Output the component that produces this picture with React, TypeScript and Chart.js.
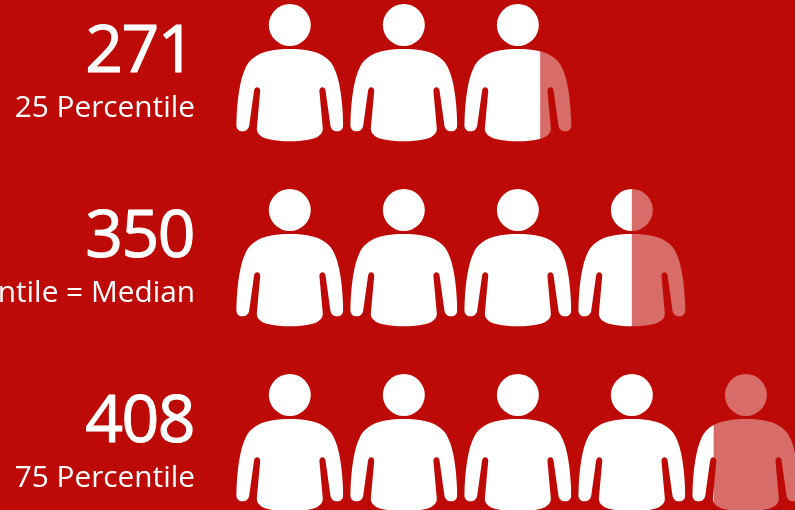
import React, { useEffect, useRef } from "react";
import { Chart, registerables } from "chart.js";

Chart.register(...registerables);

const categories = ["25 Percentile", "50 Percentile = Median", "75 Percentile"];
const valueLabels = ["271", "350", "408"];
const filledPeople = [2.71, 3.5, 4.2];

const RED = "#BE0A06";
const WHITE = "#FFFFFF";
const FADED = "rgba(255,255,255,0.4)";
const FONT = '"Open Sans"';
const GLYPH_WIDTH = 107;
const UNIT = 100;

function personPath(): Path2D {
  const p = new Path2D();
  p.arc(0, -47.5, 21, 0, Math.PI * 2);
  p.closePath();
  p.moveTo(0, -23.5);
  const side = (s: number) => {
    p.bezierCurveTo(s * 8, -23.5, s * 15, -23, s * 23, -21);
    p.bezierCurveTo(s * 32, -19, s * 41, -13, s * 44.5, -4);
    p.bezierCurveTo(s * 49.5, 6, s * 52.8, 26, s * 53.4, 51);
    p.bezierCurveTo(s * 53.8, 55.5, s * 52, 58.8, s * 47.5, 58.8);
    p.bezierCurveTo(s * 43.5, 58.8, s * 41.2, 56.5, s * 40.6, 53);
    p.lineTo(s * 35.8, 18.5);
    p.bezierCurveTo(s * 35.4, 16, s * 34.3, 14.8, s * 32.7, 14.8);
    p.bezierCurveTo(s * 31, 14.8, s * 29.6, 16, s * 29.6, 18.5);
    p.lineTo(s * 33, 56);
    p.bezierCurveTo(s * 33.2, 61, s * 29, 64.5, s * 23, 66.3);
    p.bezierCurveTo(s * 15, 68.5, s * 7, 68.8, 0, 68.8);
  };
  side(-1);
  p.moveTo(0, -23.5);
  side(1);
  p.closePath();
  return p;
}

const pictogram = {
  id: "pictogram",
  afterDatasetsDraw(chart: any) {
    const { ctx, scales } = chart;
    const meta = chart.getDatasetMeta(0);
    const glyph = personPath();
    const x = scales.x;
    meta.data.forEach((bar: any, row: number) => {
      const raw = chart.data.datasets[0].data[row] as number;
      const count = Math.ceil(raw / UNIT);
      for (let i = 0; i < count; i++) {
        const left = x.getPixelForValue(i * UNIT);
        const frac = Math.max(0, Math.min(1, raw / UNIT - i));
        const cut = left + frac * GLYPH_WIDTH;
        const paint = (from: number, to: number, color: string) => {
          ctx.save();
          ctx.beginPath();
          ctx.rect(from, bar.y - 90, to - from, 180);
          ctx.clip();
          ctx.translate(left + GLYPH_WIDTH / 2, bar.y);
          ctx.fillStyle = color;
          ctx.fill(glyph);
          ctx.restore();
        };
        if (frac > 0) paint(left - 1, cut, WHITE);
        if (frac < 1) paint(cut, left + GLYPH_WIDTH + 1, FADED);
      }
      ctx.save();
      ctx.fillStyle = WHITE;
      ctx.strokeStyle = WHITE;
      ctx.lineWidth = 1.1;
      ctx.lineJoin = "round";
      ctx.textAlign = "right";
      ctx.textBaseline = "alphabetic";
      ctx.font = `66px ${FONT}`;
      (ctx as any).letterSpacing = "-1.5px";
      ctx.fillText(valueLabels[row], 194, bar.y - 0.5);
      ctx.strokeText(valueLabels[row], 194, bar.y - 0.5);
      (ctx as any).letterSpacing = "0px";
      ctx.font = `29.8px ${FONT}`;
      ctx.fillText(chart.data.labels[row], 195, bar.y + 44.5);
      ctx.restore();
    });
  },
};

export default function App() {
  const ref = useRef<HTMLCanvasElement>(null);
  useEffect(() => {
    const chart = new Chart(ref.current!, {
      type: "bar",
      data: {
        labels: categories,
        datasets: [
          {
            data: filledPeople.map((v) => v * UNIT),
            backgroundColor: "transparent",
            borderWidth: 0,
          },
        ],
      },
      options: {
        indexAxis: "y",
        animation: false,
        responsive: false,
        devicePixelRatio: 1,
        layout: { padding: { left: 236.3, top: 0, right: 0, bottom: 0 } },
        plugins: { legend: { display: false }, tooltip: { enabled: false } },
        scales: {
          x: { type: "linear", display: false, min: 0, max: 490 },
          y: { type: "category", display: false },
        },
      },
      plugins: [pictogram],
    } as any);
    return () => chart.destroy();
  }, []);
  return (
    <div style={{ position: "fixed", left: 0, top: 0, width: 795, height: 510, overflow: "hidden", background: RED }}>
      <canvas ref={ref} width={795} height={555} style={{ position: "absolute", left: 0, top: -20, display: "block" }} />
    </div>
  );
}
